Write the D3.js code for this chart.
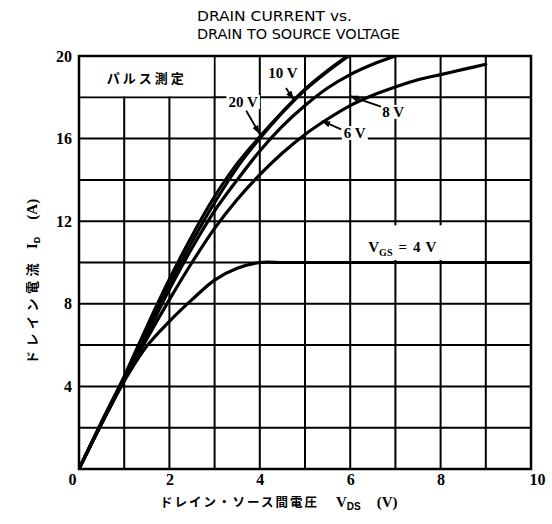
<!DOCTYPE html>
<html>
<head>
<meta charset="utf-8">
<script src="https://cdn.jsdelivr.net/npm/d3@7"></script>
<style>
  html, body { margin: 0; padding: 0; background: #fff; }
  svg { display: block; }
</style>
</head>
<body>
<svg id="chart" width="552" height="524"></svg>
<script>
// ---- data ----
const vds = [0, 0.5, 1, 1.5, 2, 2.5, 3, 3.5, 4, 4.5, 5, 5.5, 6, 6.5, 7, 7.5, 8, 8.5, 9, 9.5, 10];
const vgs20 = [0, 2.3, 4.5, 6.9, 9.2, 11.3, 13.2, 14.8, 16.1, 17.3, 18.4, 19.3, 20.1];
const vgs10 = [0, 2.25, 4.4, 6.7, 8.95, 11.0, 12.9, 14.6, 16.0, 17.25, 18.35, 19.25, 20.05];
const vgs8  = [0, 2.2, 4.35, 6.5, 8.7, 10.7, 12.5, 14.0, 15.4, 16.6, 17.6, 18.45, 19.1, 19.6, 20.0];
const vgs6  = [0, 2.2, 4.3, 6.3, 8.2, 10.0, 11.65, 13.05, 14.25, 15.3, 16.2, 16.95, 17.6, 18.1, 18.5, 18.85, 19.1, 19.35, 19.6];
const vgs4  = [0, 2.2, 4.25, 5.95, 7.15, 8.2, 9.15, 9.72, 10.0, 10.0, 10.0, 10.0, 10.0, 10.0, 10.0, 10.0, 10.0, 10.0, 10.0, 10.0, 10.0];
const seriesNames = ["20 V", "10 V", "8 V", "6 V", "4 V"];
const seriesValues = [vgs20, vgs10, vgs8, vgs6, vgs4];
const xTicks = [0, 2, 4, 6, 8, 10];
const yTicks = [4, 8, 12, 16, 20];
const titleLines = ["DRAIN CURRENT vs.", "DRAIN TO SOURCE VOLTAGE"];
// annotations: label position and pointer (data units)
const annotations = [
  { text: "10 V", x: 4.51, y: 18.93, from: [4.58, 18.45], to: [4.74, 17.9] },
  { text: "20 V", x: 3.63, y: 17.53, from: [3.70, 17.35], to: [3.99, 16.25], bg: true },
  { text: "8 V",  x: 6.95, y: 17.05, from: [6.68, 17.55], to: [6.00, 18.06], bg: true },
  { text: "6 V",  x: 6.10, y: 16.03, from: [5.80, 16.45], to: [5.38, 16.85], bg: true }
];

// ---- layout ----
const svg = d3.select("#chart");
const W = 552, H = 524;
const x = d3.scaleLinear().domain([0, 10]).range([79, 531]);
const y = d3.scaleLinear().domain([0, 20]).range([469, 56]);
const serif = "'Liberation Serif', 'DejaVu Serif', serif";
const jp = "'Noto Sans CJK JP', sans-serif";

svg.append("rect").attr("width", W).attr("height", H).attr("fill", "#fff");

// grid
const g = svg.append("g").attr("stroke", "#000").attr("stroke-width", 2);
d3.range(1, 10).forEach(v => {
  g.append("line").attr("x1", x(v)).attr("x2", x(v)).attr("y1", y(0)).attr("y2", y(20));
});
d3.range(2, 20, 2).forEach(v => {
  g.append("line").attr("x1", x(0)).attr("x2", x(10)).attr("y1", y(v)).attr("y2", y(v));
});

// white label boxes that cover grid lines
svg.append("rect").attr("x", x(0) + 1).attr("y", y(20) + 1)
  .attr("width", x(3) - x(0) - 2).attr("height", y(18) - y(20) - 2).attr("fill", "#fff");
svg.append("rect").attr("x", x(6.2)).attr("y", y(11.8))
  .attr("width", x(8.35) - x(6.2)).attr("height", y(10.12) - y(11.8)).attr("fill", "#fff");

// curves
const line = d3.line().x((d, i) => x(vds[i])).y(d => y(d)).curve(d3.curveCatmullRom.alpha(0.5));
svg.append("clipPath").attr("id", "clip").append("rect")
  .attr("x", x(0)).attr("y", y(20)).attr("width", x(10) - x(0)).attr("height", y(0) - y(20));
svg.append("g").attr("clip-path", "url(#clip)")
  .selectAll("path").data(seriesValues).join("path")
  .attr("d", d => line(d))
  .attr("fill", "none").attr("stroke", "#000")
  .attr("stroke-width", (d, i) => i < 2 ? 3 : 3.2)
  .attr("stroke-linecap", "round").attr("stroke-linejoin", "round");

// border
svg.append("rect").attr("x", x(0)).attr("y", y(20))
  .attr("width", x(10) - x(0)).attr("height", y(0) - y(20))
  .attr("fill", "none").attr("stroke", "#000").attr("stroke-width", 2.5);

// axes
const xa = svg.append("g").attr("transform", `translate(0,${y(0)})`)
  .call(d3.axisBottom(x).tickValues(xTicks).tickSize(0).tickPadding(5).tickFormat(d3.format("d")));
xa.select(".domain").remove();
xa.selectAll("text").attr("font-family", serif).attr("font-weight", "bold")
  .attr("font-size", 16).attr("fill", "#000").attr("dy", "0.71em")
  .attr("dx", d => d === 0 ? -7 : d === 10 ? 6 : 0);
const ya = svg.append("g").attr("transform", `translate(${x(0)},0)`)
  .call(d3.axisLeft(y).tickValues(yTicks).tickSize(0).tickPadding(7).tickFormat(d3.format("d")));
ya.select(".domain").remove();
ya.selectAll("text").attr("font-family", serif).attr("font-weight", "bold")
  .attr("font-size", 16).attr("fill", "#000");

// title
const sans = "'Liberation Sans Narrow', 'DejaVu Sans Condensed', 'Liberation Sans', sans-serif";
svg.append("text").attr("x", 197).attr("y", 21).attr("font-family", sans).attr("font-size", 14.5)
  .attr("textLength", 155).attr("lengthAdjust", "spacingAndGlyphs").text(titleLines[0]);
svg.append("text").attr("x", 197).attr("y", 39).attr("font-family", sans).attr("font-size", 14.5)
  .attr("textLength", 203).attr("lengthAdjust", "spacingAndGlyphs").text(titleLines[1]);

// axis titles
const xt = svg.append("text").attr("x", 160).attr("y", 507).attr("font-family", jp)
  .attr("font-size", 12.5).attr("font-weight", "bold").attr("fill", "#000");
xt.append("tspan").attr("letter-spacing", 2).text("ドレイン・ソース間電圧");
xt.append("tspan").attr("dx", 17).attr("font-family", serif).attr("font-size", 15).text("V");
xt.append("tspan").attr("font-family", "'Liberation Sans', sans-serif").attr("font-size", 10).attr("dy", 3).text("DS");
xt.append("tspan").attr("dx", 16).attr("dy", -3).attr("font-family", serif).attr("font-size", 15).text("(V)");

const yt = svg.append("text").attr("transform", "translate(37,364) rotate(-90)")
  .attr("font-family", jp).attr("font-size", 13).attr("font-weight", "bold").attr("fill", "#000");
yt.append("tspan").attr("letter-spacing", 4.5).text("ドレイン電流");
yt.append("tspan").attr("dx", 10).attr("font-family", serif).attr("font-size", 15).text("I");
yt.append("tspan").attr("font-family", "'Liberation Sans', sans-serif").attr("font-size", 9).attr("dy", 3).text("D");
yt.append("tspan").attr("dx", 17).attr("dy", -3).attr("font-family", serif).attr("font-size", 15).text("(A)");

// pulse label
svg.append("text").attr("x", x(1.5)).attr("y", y(18.7)).attr("text-anchor", "middle")
  .attr("font-family", jp).attr("font-size", 13).attr("font-weight", "bold")
  .attr("letter-spacing", 3).text("パルス測定");

// VGS label
const vg = svg.append("text").attr("x", x(6.4)).attr("y", y(10.52))
  .attr("font-family", serif).attr("font-size", 15).attr("font-weight", "bold");
vg.append("tspan").text("V");
vg.append("tspan").attr("font-size", 10).attr("dy", 4).text("GS");
vg.append("tspan").attr("dy", -4).attr("dx", 6).text("=");
vg.append("tspan").attr("dx", 6).text("4");
vg.append("tspan").attr("dx", 5).text("V");

// annotations
svg.append("defs").append("marker").attr("id", "ah").attr("viewBox", "0 0 10 10")
  .attr("refX", 9).attr("refY", 5).attr("markerWidth", 5).attr("markerHeight", 5)
  .attr("orient", "auto").append("path").attr("d", "M0,1.5 L10,5 L0,8.5 Z").attr("fill", "#000");
annotations.forEach(a => {
  const t = svg.append("text").attr("x", x(a.x)).attr("y", y(a.y)).attr("text-anchor", "middle")
    .attr("font-family", serif).attr("font-size", 15).attr("font-weight", "bold").text(a.text);
  if (a.bg) {
    const bb = t.node().getBBox();
    svg.insert("rect", () => t.node()).attr("x", bb.x - 2).attr("y", bb.y + 1)
      .attr("width", bb.width + 4).attr("height", bb.height - 2).attr("fill", "#fff");
  }
  svg.append("line").attr("x1", x(a.from[0])).attr("y1", y(a.from[1]))
    .attr("x2", x(a.to[0])).attr("y2", y(a.to[1]))
    .attr("stroke", "#000").attr("stroke-width", 1.8).attr("marker-end", "url(#ah)");
});
</script>
</body>
</html>
